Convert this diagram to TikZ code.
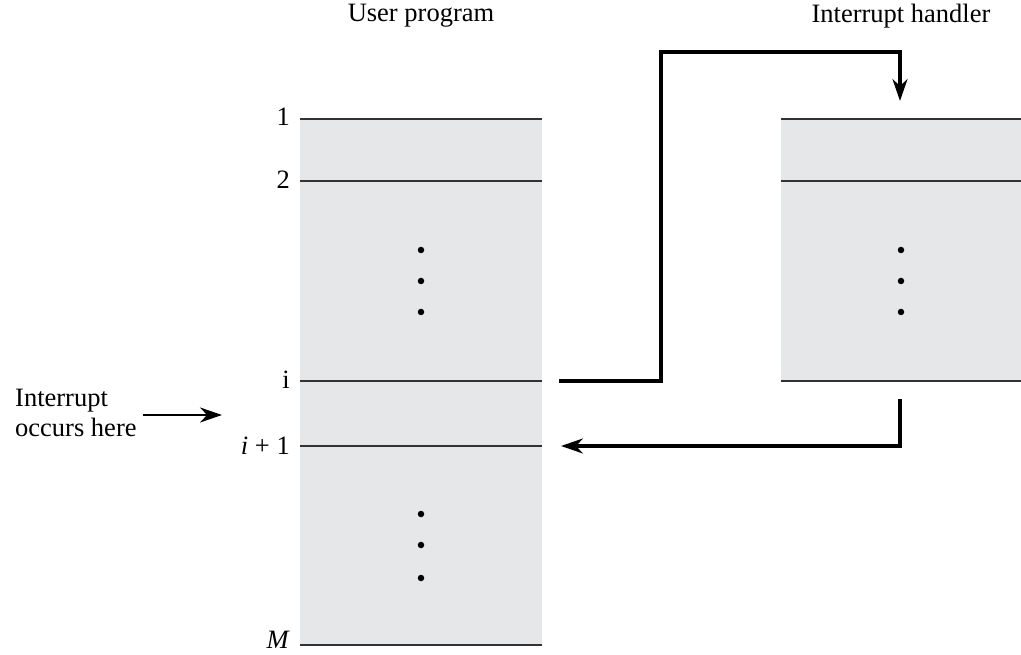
\documentclass[tikz,border=0pt]{standalone}
\usepackage{fontspec}
\setmainfont{Liberation Serif}
\usetikzlibrary{arrows.meta}
\definecolor{boxgray}{HTML}{E6E7E8}
\definecolor{linegray}{HTML}{333333}
\tikzset{
  lbl/.style={font=\fontsize{26.5}{30}\selectfont, inner sep=0pt},
  rowline/.style={draw=linegray, line width=2pt},
  flow/.style={draw=black, line width=3.2pt, -{Stealth[length=22pt,width=15pt]}},
  dotmark/.style={circle, fill=black, inner sep=0pt, minimum size=6.5pt},
}
\begin{document}
\begin{tikzpicture}[x=1pt,y=-1pt]
\useasboundingbox (0,0) rectangle (1021,655);
% boxes
\fill[boxgray] (300,119) rectangle (542,645);
\fill[boxgray] (781,119) rectangle (1021,381);
% row lines of user program
\draw[rowline] (300,119) -- (542,119);
\draw[rowline] (300,181) -- (542,181);
\draw[rowline] (300,381) -- (542,381);
\draw[rowline] (300,446) -- (542,446);
\draw[rowline] (300,645) -- (542,645);
% row lines of handler
\draw[rowline] (781,119) -- (1021,119);
\draw[rowline] (781,181) -- (1021,181);
\draw[rowline] (781,381) -- (1021,381);
% titles
\node[lbl] (tuser) at (421,16) {User program};
\node[lbl] (thand) at (901,16) {Interrupt handler};
% row labels
\node[lbl, anchor=east] (l1) at (290,117) {1};
\node[lbl, anchor=east] (l2) at (290,180) {2};
\node[lbl, anchor=east] (li) at (290,380) {i};
\node[lbl, anchor=east] (li1) at (290,446) {\textit{i} + 1};
\node[lbl, anchor=east] (lM) at (290,640) {\textit{M}};
% dots
\foreach \y [count=\k] in {250,281,312} {
  \node[dotmark] (ua\k) at (421,\y) {};
  \node[dotmark] (ha\k) at (901,\y) {};
}
\foreach \y [count=\k] in {514,545,578} {
  \node[dotmark] (ub\k) at (421,\y) {};
}
% interrupt label and arrow
\node[lbl, align=left, anchor=west] (intr) at (15,413) {Interrupt\\occurs here};
\coordinate (intA) at (143,415);
\coordinate (intB) at (222,415);
\draw[flow, line width=2.8pt] (intA) -- (intB);
% transfer to handler
\coordinate (goS) at (559,381);
\coordinate (goC1) at (661,381);
\coordinate (goC2) at (661,52);
\coordinate (goC3) at (900,52);
\coordinate (goE) at (900,101);
\draw[flow] (goS) -- (goC1) -- (goC2) -- (goC3) -- (goE);
% return to user program
\coordinate (rtS) at (900,399);
\coordinate (rtC) at (900,446);
\coordinate (rtE) at (561,446);
\draw[flow] (rtS) -- (rtC) -- (rtE);
\end{tikzpicture}
\end{document}
